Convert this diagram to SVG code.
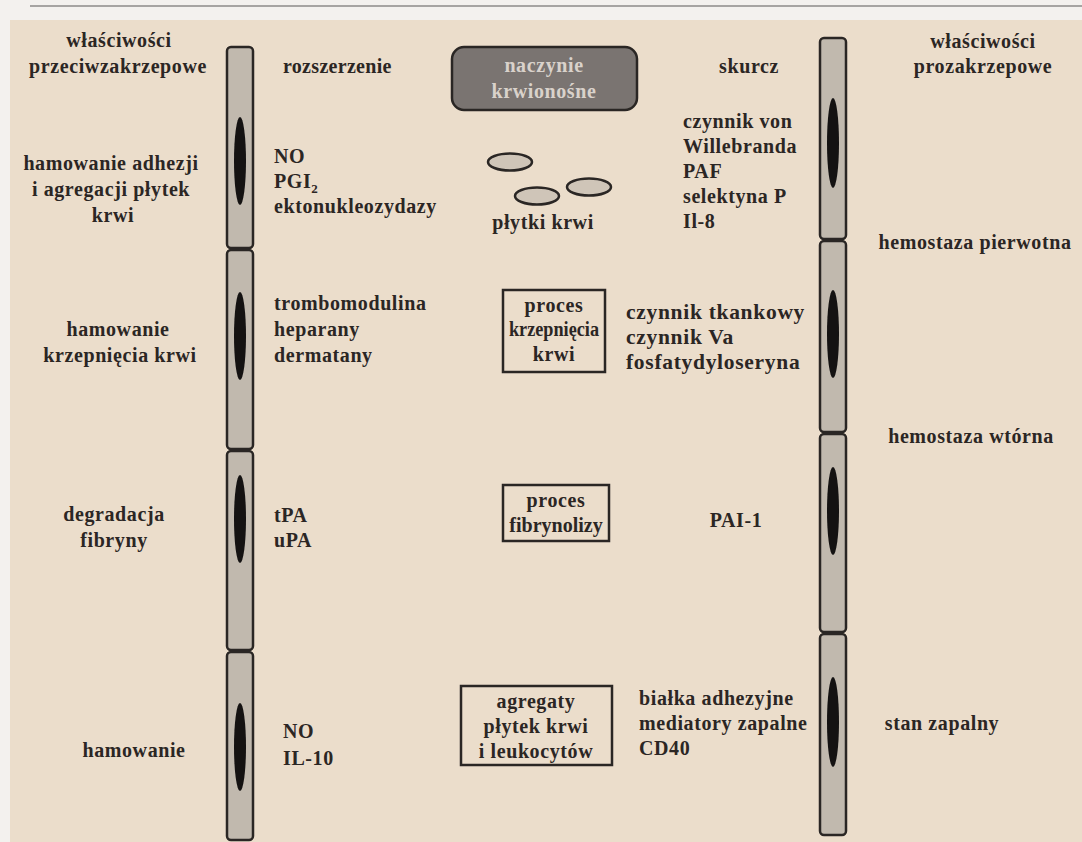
<svg xmlns="http://www.w3.org/2000/svg" width="1082" height="842" viewBox="0 0 1082 842">
<style>
  text { font-family: "Liberation Serif", "Times New Roman", serif; font-weight: bold; font-size: 20px; fill: #2b2624; letter-spacing: 0.6px; }
  .c { text-anchor: middle; }
  .big { font-size: 21.5px; letter-spacing: 0.7px; }
  .cell { fill: #c1b9ae; stroke: #2a2624; stroke-width: 2.5; }
  .nuc { fill: #141212; }
  .box { fill: none; stroke: #2a2624; stroke-width: 2.5; }
  .plt { fill: #cfc5b8; stroke: #2a2624; stroke-width: 2.5; }
</style>
<rect x="0" y="0" width="1082" height="842" fill="#f3f1ee"/>
<line x1="30" y1="6" x2="1082" y2="6" stroke="#8c8a88" stroke-width="1.5"/>
<rect x="10" y="20" width="1072" height="822" fill="#ebddcb"/>

<g id="left-column">
  <g id="lcell1"><rect class="cell" x="227" y="47" width="26" height="201" rx="4"/><ellipse class="nuc" cx="240" cy="161" rx="6" ry="44"/></g>
  <g id="lcell2"><rect class="cell" x="227" y="250" width="26" height="199" rx="4"/><ellipse class="nuc" cx="240" cy="336" rx="6" ry="44"/></g>
  <g id="lcell3"><rect class="cell" x="227" y="451" width="26" height="199" rx="4"/><ellipse class="nuc" cx="240" cy="519" rx="6" ry="44"/></g>
  <g id="lcell4"><rect class="cell" x="227" y="652" width="26" height="188" rx="4"/><ellipse class="nuc" cx="240" cy="747" rx="6" ry="44"/></g>
</g>

<g id="right-column">
  <g id="rcell1"><rect class="cell" x="820" y="38" width="26" height="201" rx="4"/><ellipse class="nuc" cx="833" cy="143" rx="6" ry="45"/></g>
  <g id="rcell2"><rect class="cell" x="820" y="241" width="26" height="191" rx="4"/><ellipse class="nuc" cx="833" cy="334" rx="6" ry="44"/></g>
  <g id="rcell3"><rect class="cell" x="820" y="434" width="26" height="198" rx="4"/><ellipse class="nuc" cx="833" cy="511" rx="6" ry="44"/></g>
  <g id="rcell4"><rect class="cell" x="820" y="634" width="26" height="201" rx="4"/><ellipse class="nuc" cx="833" cy="722" rx="6" ry="45"/></g>
</g>

<g id="vessel">
  <rect x="452" y="47" width="185" height="63" rx="12" fill="#7a7471" stroke="#2a2624" stroke-width="2.5"/>
  <text class="c" x="544" y="72" style="fill:#d9d2cb">naczynie</text>
  <text class="c" x="544" y="98" style="fill:#d9d2cb">krwionośne</text>
</g>

<g id="platelets">
  <ellipse class="plt" cx="510" cy="162" rx="22" ry="8.5"/>
  <ellipse class="plt" cx="537" cy="196" rx="22" ry="8.5"/>
  <ellipse class="plt" cx="589" cy="187" rx="22" ry="8.5"/>
  <text class="c" x="543" y="229">płytki krwi</text>
</g>

<g id="box-krzepniecie">
  <rect class="box" x="503" y="290" width="102" height="82"/>
  <text class="c" x="554" y="312">proces</text>
  <text class="c" x="554" y="336" style="letter-spacing:0" textLength="90" lengthAdjust="spacingAndGlyphs">krzepnięcia</text>
  <text class="c" x="554" y="361">krwi</text>
</g>

<g id="box-fibrynoliza">
  <rect class="box" x="503" y="485" width="106" height="56"/>
  <text class="c" x="556" y="507">proces</text>
  <text class="c" x="556" y="532" style="letter-spacing:0">fibrynolizy</text>
</g>

<g id="box-agregaty">
  <rect class="box" x="461" y="686" width="151" height="79"/>
  <text class="c" x="536" y="708">agregaty</text>
  <text class="c" x="536" y="733">płytek krwi</text>
  <text class="c" x="536" y="758">i leukocytów</text>
</g>

<g id="left-labels">
  <text class="c" x="119" y="47">właściwości</text>
  <text class="c" x="118" y="73">przeciwzakrzepowe</text>
  <text class="c" x="111" y="170">hamowanie adhezji</text>
  <text class="c" x="111" y="196">i agregacji płytek</text>
  <text class="c" x="113" y="222">krwi</text>
  <text class="c" x="118" y="336">hamowanie</text>
  <text class="c" x="120" y="362">krzepnięcia krwi</text>
  <text class="c" x="114" y="521">degradacja</text>
  <text class="c" x="114" y="547">fibryny</text>
  <text class="c" x="134" y="757">hamowanie</text>
</g>

<g id="left-mediators">
  <text x="283" y="73" style="letter-spacing:0.3px">rozszerzenie</text>
  <text x="274" y="163">NO</text>
  <text x="274" y="188">PGI<tspan font-size="13" dy="5">2</tspan></text>
  <text x="274" y="213">ektonukleozydazy</text>
  <text x="274" y="310">trombomodulina</text>
  <text x="274" y="336">heparany</text>
  <text x="274" y="362">dermatany</text>
  <text x="274" y="522">tPA</text>
  <text x="274" y="547">uPA</text>
  <text x="283" y="738">NO</text>
  <text x="283" y="765">IL-10</text>
</g>

<g id="right-mediators">
  <text class="c" x="749" y="73">skurcz</text>
  <text x="683" y="128">czynnik von</text>
  <text x="683" y="153">Willebranda</text>
  <text x="683" y="178">PAF</text>
  <text x="683" y="203">selektyna P</text>
  <text x="683" y="228">Il-8</text>
  <text class="big" x="626" y="319">czynnik tkankowy</text>
  <text class="big" x="626" y="344">czynnik Va</text>
  <text class="big" x="626" y="369">fosfatydyloseryna</text>
  <text class="c" x="736" y="527">PAI-1</text>
  <text x="639" y="705">białka adhezyjne</text>
  <text x="639" y="730">mediatory zapalne</text>
  <text x="639" y="755">CD40</text>
</g>

<g id="right-labels">
  <text class="c" x="983" y="48">właściwości</text>
  <text class="c" x="983" y="73">prozakrzepowe</text>
  <text class="c" x="975" y="249">hemostaza pierwotna</text>
  <text class="c" x="971" y="443">hemostaza wtórna</text>
  <text class="c" x="942" y="730">stan zapalny</text>
</g>

<g id="connectors"></g>
</svg>
